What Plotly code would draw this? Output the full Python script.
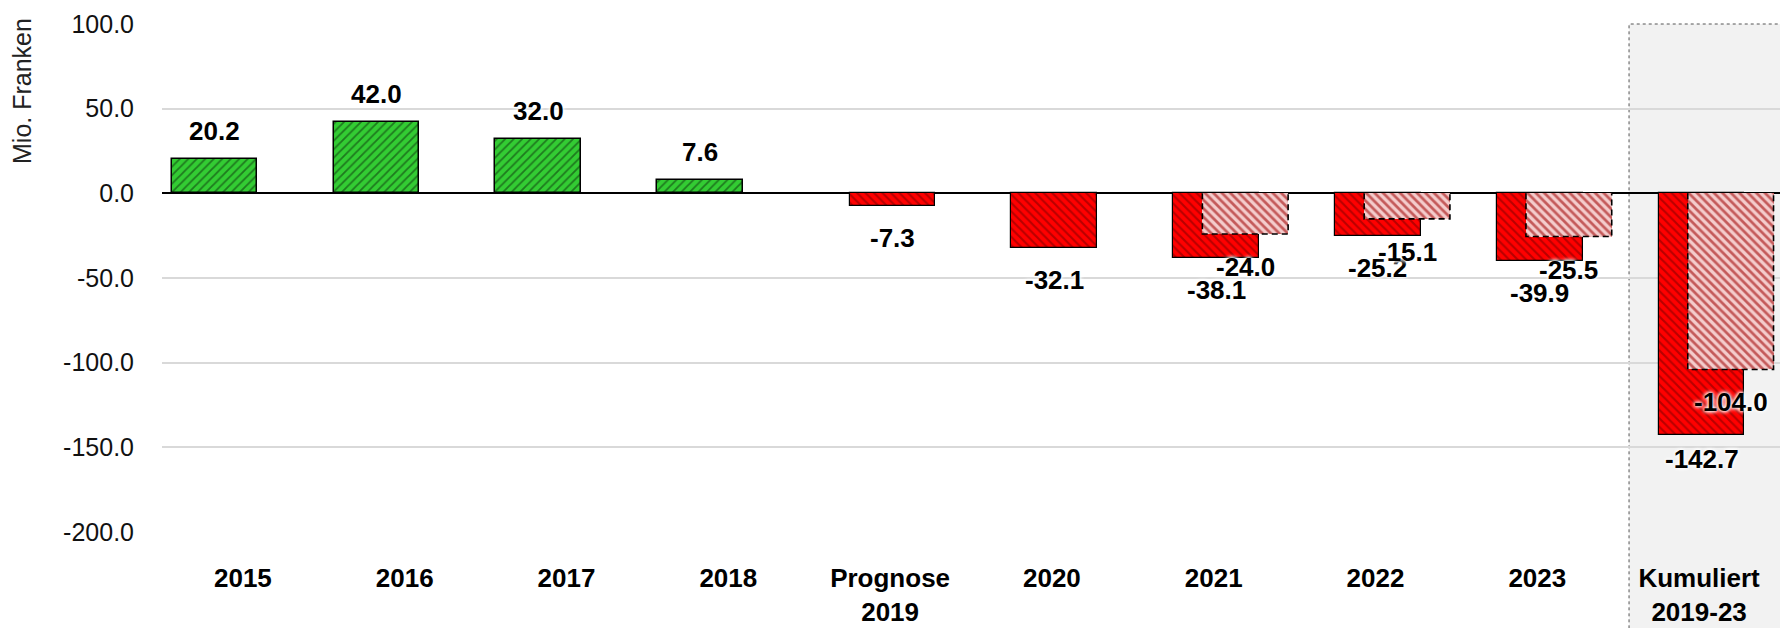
import plotly.graph_objects as go

# ---------------- data ----------------
categories = ["2015", "2016", "2017", "2018", "Prognose<br>2019", "2020",
              "2021", "2022", "2023", "Kumuliert<br>2019-23"]
green_idx = [0, 1, 2, 3]
green_vals = [20.2, 42.0, 32.0, 7.6]
red_idx = [4, 5, 6, 7, 8, 9]
red_vals = [-7.3, -32.1, -38.1, -25.2, -39.9, -142.7]
pink_idx = [6, 7, 8, 9]
pink_vals = [-24.0, -15.1, -25.5, -104.0]
y_ticks = [100, 50, 0, -50, -100, -150, -200]
y_ticktext = [f"{v:.1f}" for v in y_ticks]

# ---------------- style ----------------
W = 0.53
G_OFF, R_OFF, P_OFF = -0.44, -0.25, -0.07
FONT = "Liberation Sans Narrow, Arial Narrow, Liberation Sans, Arial, sans-serif"
HALO = "0px 0px 3px white, 0px 0px 4px white, 0px 0px 5px white"

fig = go.Figure()

fig.add_trace(go.Bar(
    x=green_idx, y=green_vals, width=W, offset=G_OFF,
    marker=dict(color="#33cc33",
                line=dict(color="black", width=1.5),
                pattern=dict(shape="/", bgcolor="#33cc33", fgcolor="#1e7a1e",
                             size=6, solidity=0.3, fillmode="replace")),
    hoverinfo="skip", showlegend=False))

fig.add_trace(go.Bar(
    x=red_idx, y=red_vals, width=W, offset=R_OFF,
    marker=dict(color="#ff0000",
                line=dict(color="black", width=1.2),
                pattern=dict(shape="\\", bgcolor="#ff0000", fgcolor="#b80000",
                             size=6, solidity=0.35, fillmode="replace")),
    hoverinfo="skip", showlegend=False))

fig.add_trace(go.Bar(
    x=pink_idx, y=pink_vals, width=W, offset=P_OFF,
    marker=dict(color="#f2c6c6",
                line=dict(width=0),
                pattern=dict(shape="\\", bgcolor="#f4cccc", fgcolor="#c45a5a",
                             size=6, solidity=0.45, fillmode="replace")),
    hoverinfo="skip", showlegend=False))

# dashed outline of the pink bars, derived from the data
ox, oy = [], []
for i, v in zip(pink_idx, pink_vals):
    x0, x1 = i + P_OFF, i + P_OFF + W
    ox += [x0, x0, x1, x1, None]
    oy += [0, v, v, 0, None]
fig.add_trace(go.Scatter(x=ox, y=oy, mode="lines",
                         line=dict(color="black", width=1.6, dash="6px,4px"),
                         hoverinfo="skip", showlegend=False))

# ---------------- value labels ----------------
ann = []
lab_font = dict(family=FONT, size=26, color="black", weight="bold", shadow=HALO)
for i, v in zip(green_idx, green_vals):
    ann.append(dict(x=i + G_OFF + W / 2, y=v, xref="x", yref="y", text=f"{v:.1f}",
                    showarrow=False, yanchor="middle", yshift=28, font=lab_font))
for i, v in zip(red_idx, red_vals):
    shift = -24 if i == 9 else -32
    ann.append(dict(x=i + R_OFF + W / 2, y=v, xref="x", yref="y", text=f"{v:.1f}",
                    showarrow=False, yanchor="middle", yshift=shift, font=lab_font))
for i, v in zip(pink_idx, pink_vals):
    ann.append(dict(x=i + P_OFF + W / 2, y=v, xref="x", yref="y", text=f"{v:.1f}",
                    showarrow=False, yanchor="middle", yshift=-33, font=lab_font))

ann.append(dict(x=0, y=1, xref="paper", yref="paper", text="Mio. Franken",
                textangle=-90, showarrow=False, xanchor="center", yanchor="top",
                xshift=-140, yshift=8,
                font=dict(family=FONT, size=25, color="#222222")))

fig.update_layout(
    width=1780, height=628,
    margin=dict(l=162, r=0, t=24, b=96),
    paper_bgcolor="white", plot_bgcolor="rgba(0,0,0,0)",
    barmode="overlay", bargap=0,
    annotations=ann,
    shapes=[dict(type="rect", xref="x", yref="paper",
                 x0=8.567, x1=9.6, y0=-0.3, y1=1,
                 fillcolor="#f2f2f2",
                 line=dict(color="#555555", width=1, dash="dot"),
                 layer="below")],
)

fig.update_xaxes(range=[-0.5, 9.5], tickvals=list(range(len(categories))),
                 ticktext=categories, showgrid=False, zeroline=False, ticks="",
                 showline=False, ticklabelstandoff=28, automargin=False,
                 tickfont=dict(family=FONT, size=26, color="black", weight="bold"))
fig.update_yaxes(range=[-200, 100], tickvals=y_ticks, ticktext=y_ticktext,
                 showgrid=True, gridcolor="#d9d9d9", gridwidth=1.5,
                 zeroline=True, zerolinecolor="black", zerolinewidth=2.2,
                 ticks="", showline=False, ticklabelstandoff=27, automargin=False,
                 tickfont=dict(family=FONT, size=25, color="#111111"))

fig.write_html(
    "out.html",
    config={"displayModeBar": False},
    post_script="document.body.style.margin='0';document.body.style.overflow='hidden';",
)
